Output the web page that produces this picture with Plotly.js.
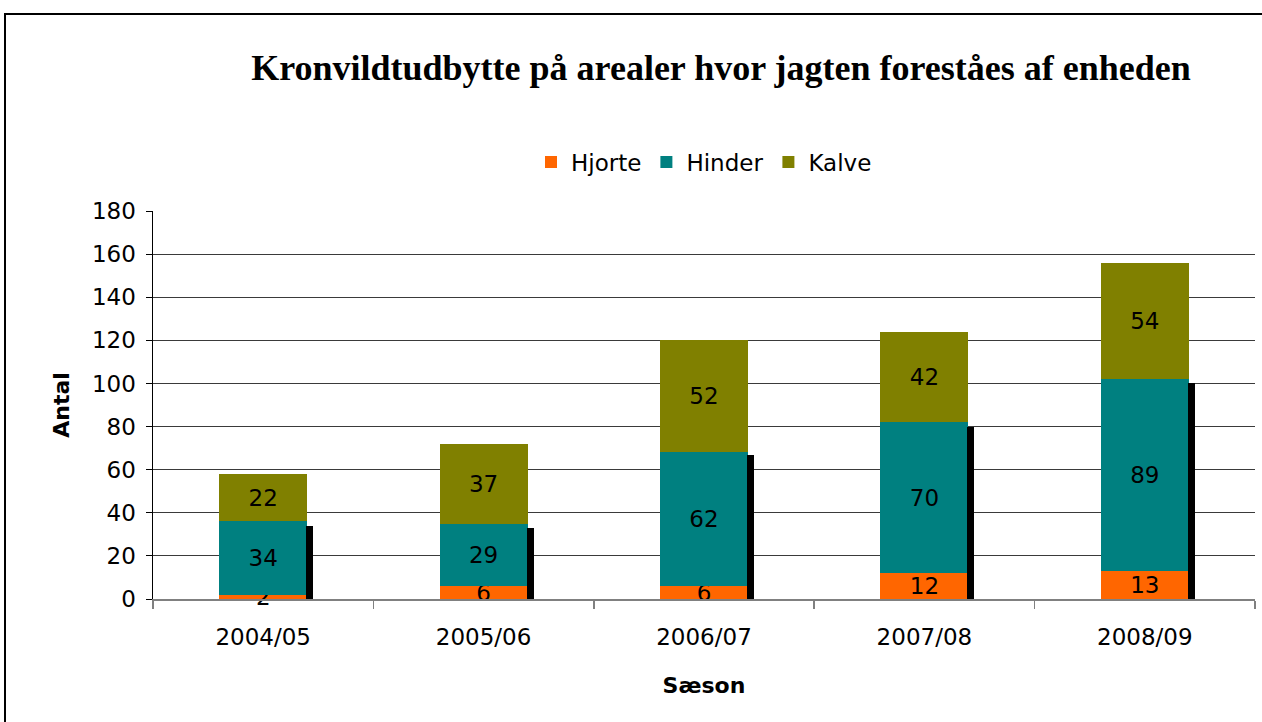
<!DOCTYPE html>
<html>
<head>
<meta charset="utf-8">
<script src="https://cdn.plot.ly/plotly-3.0.1.min.js"></script>
<style>
html,body{margin:0;padding:0;background:#fff;}
#wrap{position:relative;width:1262px;height:722px;}
#chart{width:1262px;height:722px;}
#frame{position:absolute;left:4px;top:13px;width:1258px;height:709px;border-top:2px solid #000;border-left:2px solid #000;pointer-events:none;}
</style>
</head>
<body>
<div id="wrap"><div id="chart"></div><div id="frame"></div></div>
<script>
var seasons = ["2004/05","2005/06","2006/07","2007/08","2008/09"];
var hjorte = [2, 6, 6, 12, 13];
var hinder = [34, 29, 62, 70, 89];
var kalve = [22, 37, 52, 42, 54];
var shadow = [34, 33, 67, 80, 100];

var labelFont = {family: "DejaVu Sans, Verdana, sans-serif", size: 23, color: "#000"};

function seg(name, vals, color) {
  return {
    type: "bar", name: name, x: seasons, y: vals,
    marker: {color: color, line: {width: 0}},
    text: vals.map(String), textposition: "inside", insidetextanchor: "middle",
    constraintext: "none", textangle: 0, insidetextfont: labelFont,
    cliponaxis: false,
    width: 0.4, hoverinfo: "x+y+name"
  };
}

var traces = [
  seg("Hjorte", hjorte, "#FF6600"),
  seg("Hinder", hinder, "#008080"),
  seg("Kalve", kalve, "#808000"),
  {
    type: "bar", name: "shadow", x: seasons, y: shadow, xaxis: "x2",
    marker: {color: "#000"}, width: 0.032, offset: 0.195,
    showlegend: false, hoverinfo: "skip"
  }
];

var layout = {
  width: 1262, height: 722,
  margin: {l: 153, r: 7, t: 211, b: 123},
  paper_bgcolor: "#fff", plot_bgcolor: "#fff",
  barmode: "stack",
  font: {family: "DejaVu Sans, Verdana, sans-serif", size: 23, color: "#000"},
  title: {
    text: "<b>Kronvildtudbytte på arealer hvor jagten foreståes af enheden</b>",
    font: {family: "Liberation Serif, Times New Roman, serif", size: 36, color: "#000"},
    x: 721/1262, xanchor: "center", xref: "container",
    y: 1 - 67/722, yanchor: "middle", yref: "container"
  },
  legend: {
    orientation: "h", x: 0.5, xanchor: "center", xref: "paper",
    y: 1 - 162/722, yanchor: "middle", yref: "container",
    font: {family: "DejaVu Sans, Verdana, sans-serif", size: 23, color: "#000"},
    itemwidth: 30, traceorder: "normal", bgcolor: "rgba(0,0,0,0)"
  },
  xaxis: {
    type: "category", range: [-0.5, 4.5],
    showline: true, linecolor: "#808080", linewidth: 2,
    ticks: "outside", tickson: "boundaries", ticklen: 8, tickcolor: "#808080", tickwidth: 1.5,
    showgrid: false, zeroline: false,
    tickfont: {family: "DejaVu Sans, Verdana, sans-serif", size: 23, color: "#000"},
    ticklabelstandoff: 16,
    title: {text: "<b>Sæson</b>", font: {family: "DejaVu Sans, Verdana, sans-serif", size: 22, color: "#000"}, standoff: 29}
  },
  xaxis2: {
    type: "category", range: [-0.5, 4.5], overlaying: "x",
    showticklabels: false, showgrid: false, zeroline: false, showline: false, ticks: ""
  },
  yaxis: {
    range: [0, 180], dtick: 20,
    showline: true, linecolor: "#000", linewidth: 1.5,
    ticks: "outside", ticklen: 6, tickcolor: "#000", tickwidth: 1,
    showgrid: true, gridcolor: "#3a3a3a", gridwidth: 1,
    zeroline: false,
    tickfont: {family: "DejaVu Sans, Verdana, sans-serif", size: 23, color: "#000"},
    ticklabelstandoff: 5,
    title: {text: "<b>Antal</b>", font: {family: "DejaVu Sans, Verdana, sans-serif", size: 22, color: "#000"}, standoff: 16}
  },
  showlegend: true
};

Plotly.newPlot("chart", traces, layout, {displayModeBar: false, staticPlot: true});
</script>
</body>
</html>
